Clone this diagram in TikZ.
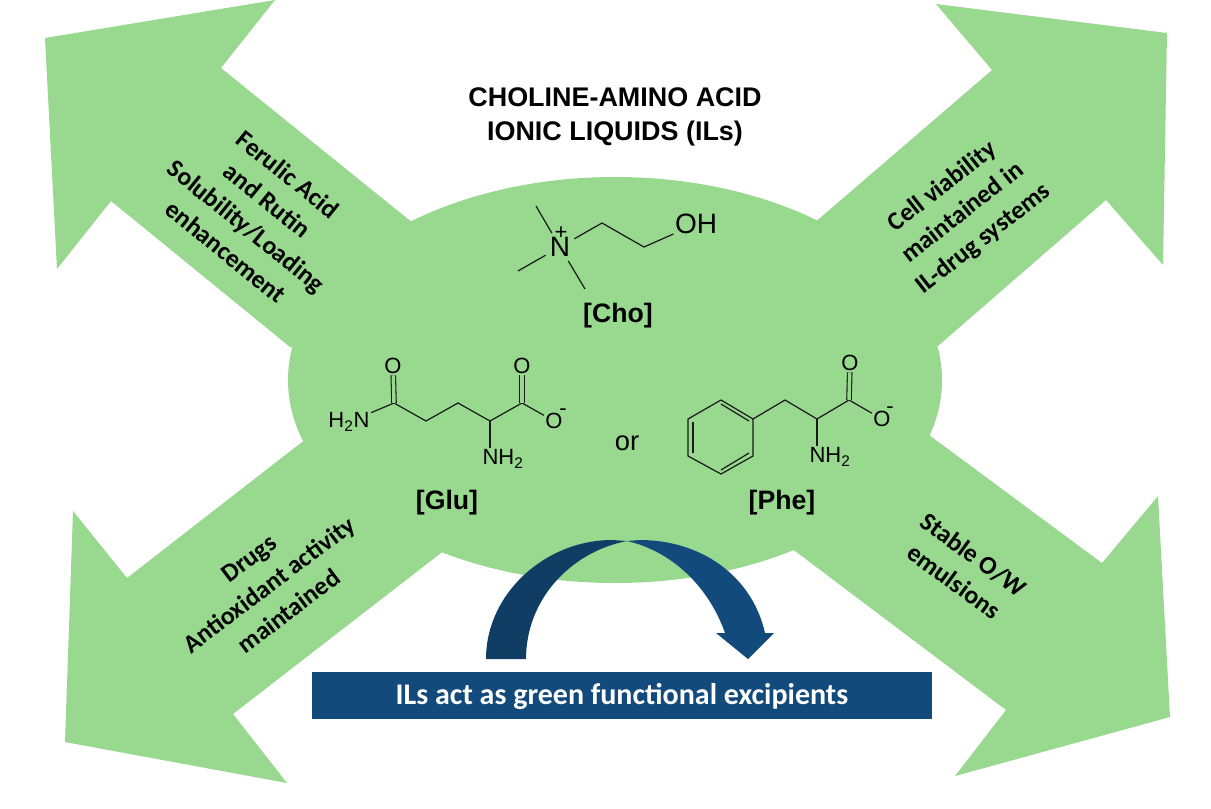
\documentclass[tikz,border=0pt]{standalone}
\usepackage{fontspec}
\setmainfont{Carlito}
\newfontfamily\arialfont{Liberation Sans}
\definecolor{ilgreen}{HTML}{98D88F}
\definecolor{ilblue}{HTML}{134A7C}
\definecolor{ildark}{HTML}{0F3D63}
\begin{document}
\begin{tikzpicture}[
    x=0.75pt, y=-0.75pt,
    wing/.style={fill=ilgreen, draw=none},
    claim/.style={align=center, font=\fontsize{19.2}{24.75}\selectfont\bfseries, inner sep=0pt},
    title/.style={align=center, font=\arialfont\fontsize{20.2}{25}\selectfont\bfseries, inner sep=0pt},
    tag/.style={font=\arialfont\fontsize{20}{24}\selectfont\bfseries, inner sep=0pt},
    atom/.style={font=\arialfont\fontsize{16.5}{18}\selectfont, inner sep=1pt},
    bigatom/.style={font=\arialfont\fontsize{21}{24}\selectfont, inner sep=1pt},
    bond/.style={line width=0.9pt, draw=black!90},
    dbl/.style={line width=0.8pt, draw=black!90, double=ilgreen, double distance=2.6pt}
]
\useasboundingbox (0,0) rectangle (1211,808);

% Green body and the four wings
\fill[wing] (615,380) ellipse [x radius=327, y radius=203];
\fill[wing] (45,38) -- (275,0) -- (221,68) -- (408,219) -- (615,380) -- (290,347) -- (111,201) -- (57,269) -- cycle;
\fill[wing] (936,4) -- (1167,33) -- (1163,265) -- (1106,200) -- (938,346) -- (615,380) -- (820,218) -- (992,70) -- cycle;
\fill[wing] (73,511) -- (127,578) -- (302,442) -- (615,380) -- (441,553) -- (233,714) -- (287,783) -- (65,742) -- cycle;
\fill[wing] (1158,496) -- (1170,717) -- (955,776) -- (1006,710) -- (795,551) -- (615,380) -- (929,435) -- (1102,563) -- cycle;

% Wing labels
\node[claim, rotate=-39] (ferulic) at (257,213) {Ferulic Acid\\and Rutin\\Solubility/Loading\\enhancement};
\node[claim, rotate=38] (viability) at (963,213) {Cell viability\\maintained in\\IL-drug systems};
\node[claim, rotate=37] (drugs) at (269,585) {Drugs\\Antioxidant activity\\maintained};
\node[claim, rotate=-36] (stable) at (964,568) {Stable O/W\\emulsions};

% Title
\node[title] (head) at (615,117) {CHOLINE-AMINO ACID\\IONIC LIQUIDS (ILs)};

% Choline
\node[bigatom, inner sep=3pt] (choN) at (560,247) {N};
\node[atom] (choP) at (561,233) {+};
\node[bigatom] (choOH) at (696,224) {OH};
\coordinate (choA) at (536,206);
\coordinate (choB) at (518,271);
\coordinate (choC) at (585,289);
\coordinate (choD) at (602,223);
\coordinate (choE) at (644,247);
\draw[bond] (choN) -- (choA);
\draw[bond] (choN) -- (choB);
\draw[bond] (choN) -- (choC);
\draw[bond] (choN) -- (choD) -- (choE) -- (choOH);
\node[tag] (cho) at (618,316) {[Cho]};

% Glutamine
\node[atom] (gluN) at (349,422) {H\textsubscript{2}N};
\node[atom] (gluO) at (393,366) {O};
\node[atom] (gluOa) at (522,366) {O};
\node[atom] (gluOb) at (554,421) {O};
\node[atom] (gluM) at (563,412) {-};
\node[atom] (gluNb) at (503,459) {NH\textsubscript{2}};
\coordinate (gluA) at (394,403);
\coordinate (gluB) at (426,421);
\coordinate (gluC) at (458,403);
\coordinate (gluD) at (490,421);
\coordinate (gluE) at (522,403);
\coordinate (gluF) at (490,448);
\draw[bond] (gluN) -- (gluA) -- (gluB) -- (gluC) -- (gluD) -- (gluE) -- (gluOb);
\draw[bond] (gluD) -- (gluF);
\draw[dbl] (gluA) -- (gluO);
\draw[dbl] (gluE) -- (gluOa);
\node[tag] (glu) at (447,503) {[Glu]};

\node[font=\arialfont\fontsize{20.5}{24}\selectfont, inner sep=0pt] (orword) at (627,443) {or};

% Phenylalanine
\coordinate (phe1) at (721,400);
\coordinate (phe2) at (753,419);
\coordinate (phe3) at (753,456);
\coordinate (phe4) at (721,474);
\coordinate (phe5) at (688,456);
\coordinate (phe6) at (688,419);
\draw[bond] (phe1) -- (phe2) -- (phe3) -- (phe4) -- (phe5) -- (phe6) -- cycle;
\coordinate (pheIa) at (721,404);
\coordinate (pheIb) at (749,421);
\coordinate (pheIc) at (749,453);
\coordinate (pheId) at (721,470);
\coordinate (pheIe) at (693,453);
\coordinate (pheIf) at (693,422);
\draw[bond] (pheIa) -- (pheIb);
\draw[bond] (pheIc) -- (pheId);
\draw[bond] (pheIe) -- (pheIf);
\node[atom] (pheO) at (850,363) {O};
\node[atom] (pheOb) at (882,419) {O};
\node[atom] (pheM) at (890,410) {-};
\node[atom] (pheN) at (830,457) {NH\textsubscript{2}};
\coordinate (pheA) at (785,400);
\coordinate (pheB) at (817,419);
\coordinate (pheC) at (849,400);
\coordinate (pheD) at (817,446);
\draw[bond] (phe2) -- (pheA) -- (pheB) -- (pheC) -- (pheOb);
\draw[bond] (pheB) -- (pheD);
\draw[dbl] (pheC) -- (pheO);
\node[tag] (phe) at (782,503) {[Phe]};

% Curved arrow
\fill[ildark] (486,659) .. controls (486,593) and (546,540) .. (612,540) -- (627,541) .. controls (570,552) and (526,600) .. (526,659) -- cycle;
\fill[ilblue] (627,541) -- (640,540) .. controls (700,540) and (752,575) .. (765,633) -- (774,633) -- (748,659) -- (716,633) -- (725,633) .. controls (710,590) and (675,552) .. (627,541) -- cycle;

% Banner
\node[fill=ilblue, text=white, minimum width=620*0.75pt, minimum height=47*0.75pt, inner sep=0pt, text height=18.5pt, text depth=5pt, font=\fontsize{22.5}{26}\selectfont\bfseries] (banner) at (622,695.5) {ILs act as green functional excipients};

\end{tikzpicture}
\end{document}
